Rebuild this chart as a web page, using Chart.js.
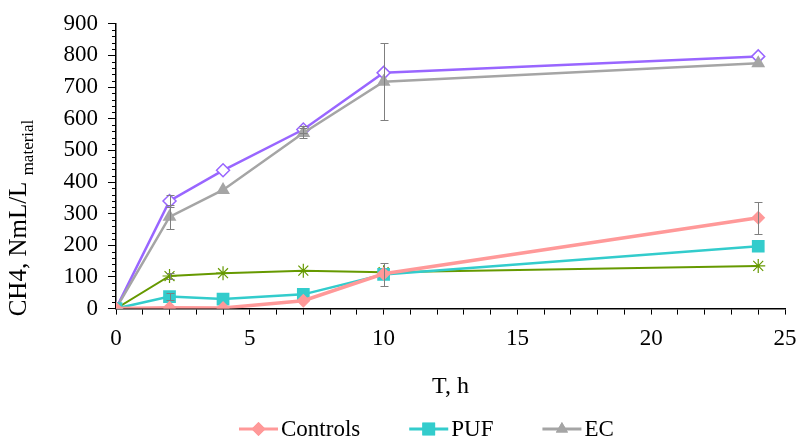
<!DOCTYPE html>
<html>
<head>
<meta charset="utf-8">
<script src="https://cdn.jsdelivr.net/npm/chart.js@4.4.1/dist/chart.umd.min.js"></script>
<style>
  html, body { margin: 0; padding: 0; background: #fff; }
  #wrap { width: 798px; height: 440px; }
</style>
</head>
<body>
<div id="wrap"><canvas id="ch4Chart"></canvas></div>
<script>
// time points (h)
var hours = [0, 2, 4, 7, 10, 24];

// methane yield per series
var controls = [0, 3, 2, 25, 110, 287];
var puf = [0, 38, 30, 45, 108, 197];
var ec = [0, 290, 375, 555, 717, 775];
var purpleSeries = [0, 340, 437, 566, 745, 797];
var greenSeries = [0, 103, 112, 120, 115, 135];

// error bars (+/-)
var controlsErr = [0, 0, 0, 0, 0, 51];
var pufErr = [0, 12, 0, 0, 36, 0];
var ecErr = [0, 38, 0, 15, 122, 0];
var purpleErr = [0, 20, 0, 10, 0, 0];
var greenErr = [0, 8, 0, 0, 0, 0];

var xTicks = [0, 5, 10, 15, 20, 25];
var yTicks = [0, 100, 200, 300, 400, 500, 600, 700, 800, 900];

var FONT = 'Liberation Serif';

function toXY(ys) {
    return hours.map(function(h, i) { return { x: h, y: ys[i] }; });
}

var errorBars = {
    id: 'errorBars',
    afterDatasetsDraw: function(chart) {
        var ctx = chart.ctx;
        var xs = chart.scales.x, ys = chart.scales.y;
        ctx.save();
        ctx.strokeStyle = '#7f7f7f';
        ctx.lineWidth = 1;
        chart.data.datasets.forEach(function(ds) {
            if (!ds.errors) return;
            ds.data.forEach(function(p, i) {
                var e = ds.errors[i];
                if (!e) return;
                var px = Math.round(xs.getPixelForValue(p.x)) + 0.5;
                var top = Math.round(ys.getPixelForValue(p.y + e)) + 0.5;
                var bot = Math.round(ys.getPixelForValue(p.y - e)) + 0.5;
                ctx.beginPath();
                ctx.moveTo(px, top); ctx.lineTo(px, bot);
                ctx.moveTo(px - 4, top); ctx.lineTo(px + 4, top);
                ctx.moveTo(px - 4, bot); ctx.lineTo(px + 4, bot);
                ctx.stroke();
            });
        });
        ctx.restore();
    }
};

// short minor ticks on the y axis
var yMinor = {
    id: 'yMinor',
    afterDraw: function(chart) {
        var ctx = chart.ctx;
        var ys = chart.scales.y;
        ctx.save();
        ctx.strokeStyle = '#000';
        ctx.lineWidth = 1;
        ys.ticks.forEach(function(t) {
            if (yTicks.indexOf(t.value) >= 0) return;
            var py = Math.round(ys.getPixelForValue(t.value)) + 0.5;
            ctx.beginPath();
            ctx.moveTo(ys.right - 4, py);
            ctx.lineTo(ys.right, py);
            ctx.stroke();
        });
        ctx.restore();
    }
};

// y title with subscript
var yTitle = {
    id: 'yTitle',
    afterDraw: function(chart) {
        var ctx = chart.ctx;
        var main = 'CH4, NmL/L ';
        var sub = 'material';
        ctx.save();
        ctx.font = '25px "' + FONT + '"';
        var w1 = ctx.measureText(main).width;
        ctx.font = '17px "' + FONT + '"';
        var w2 = ctx.measureText(sub).width;
        ctx.translate(26, 218);
        ctx.rotate(-Math.PI / 2);
        ctx.fillStyle = '#000';
        ctx.textBaseline = 'alphabetic';
        ctx.textAlign = 'left';
        var start = -(w1 + w2) / 2;
        ctx.font = '25px "' + FONT + '"';
        ctx.fillText(main, start, 0);
        ctx.font = '17px "' + FONT + '"';
        ctx.fillText(sub, start + w1, 7);
        ctx.restore();
    }
};

// legend: line + marker + text, first three series only
var lineLegend = {
    id: 'lineLegend',
    afterDraw: function(chart) {
        var ctx = chart.ctx;
        var y = 429;
        var x = 239;
        ctx.save();
        ctx.font = '23px "' + FONT + '"';
        ctx.textBaseline = 'middle';
        ctx.textAlign = 'left';
        chart.data.datasets.slice(0, 3).forEach(function(ds) {
            ctx.strokeStyle = ds.borderColor;
            ctx.lineWidth = 3;
            ctx.beginPath();
            ctx.moveTo(x, y); ctx.lineTo(x + 39, y);
            ctx.stroke();
            ctx.fillStyle = ds.backgroundColor;
            Chart.helpers.drawPoint(ctx, { pointStyle: ds.pointStyle, radius: ds.legendRadius, borderWidth: 0 }, x + 19.5, y);
            ctx.fill();
            ctx.fillStyle = '#000';
            ctx.fillText(ds.label, x + 42, y + 1);
            x += 42 + ctx.measureText(ds.label).width + 49;
        });
        ctx.restore();
    }
};

var ctx = document.getElementById('ch4Chart').getContext('2d');
var ch4Chart = new Chart(ctx, {
    type: 'line',
    data: {
        datasets: [{
            label: 'Controls',
            data: toXY(controls),
            errors: controlsErr,
            borderColor: '#ff9999',
            backgroundColor: '#ff9999',
            borderWidth: 3.5,
            pointStyle: 'rectRot',
            pointRadius: 7,
            legendRadius: 7,
            pointBorderWidth: 0
        }, {
            label: 'PUF',
            data: toXY(puf),
            errors: pufErr,
            borderColor: '#33cccc',
            backgroundColor: '#33cccc',
            borderWidth: 2.5,
            pointStyle: 'rect',
            pointRadius: 9,
            legendRadius: 9,
            pointBorderWidth: 0
        }, {
            label: 'EC',
            data: toXY(ec),
            errors: ecErr,
            borderColor: '#a5a5a5',
            backgroundColor: '#a5a5a5',
            borderWidth: 2.5,
            pointStyle: 'triangle',
            pointRadius: 8,
            legendRadius: 7,
            pointBorderWidth: 0
        }, {
            label: 'Series 4',
            data: toXY(purpleSeries),
            errors: purpleErr,
            borderColor: '#9966ff',
            backgroundColor: '#ffffff',
            borderWidth: 2.5,
            pointStyle: 'rectRot',
            pointRadius: 6.5,
            pointBorderWidth: 1.5,
            pointBorderColor: '#9966ff',
            pointBackgroundColor: '#ffffff'
        }, {
            label: 'Series 5',
            data: toXY(greenSeries),
            errors: greenErr,
            borderColor: '#669900',
            backgroundColor: '#669900',
            borderWidth: 2,
            pointStyle: 'star',
            pointRadius: 7,
            pointBorderWidth: 1.2,
            pointBorderColor: '#669900'
        }]
    },
    options: {
        responsive: true,
        maintainAspectRatio: false,
        animation: false,
        layout: { padding: { left: 0, right: 0, top: 16, bottom: 39 } },
        elements: { line: { tension: 0 } },
        plugins: {
            tooltip: { enabled: false },
            legend: { display: false }
        },
        scales: {
            x: {
                type: 'linear',
                min: 0,
                max: 25,
                afterFit: function(scale) { scale.paddingRight = 13; scale.paddingLeft = 0; },
                afterBuildTicks: function(scale) {
                    var t = [];
                    for (var v = 0; v <= 25; v++) t.push({ value: v });
                    scale.ticks = t;
                },
                ticks: {
                    autoSkip: false,
                    maxRotation: 0,
                    color: '#000',
                    font: { family: FONT, size: 23 },
                    padding: 11,
                    callback: function(v) { return xTicks.indexOf(v) >= 0 ? String(v) : ''; }
                },
                grid: {
                    drawOnChartArea: false,
                    color: '#000',
                    tickLength: 6,
                    tickColor: '#000'
                },
                border: { color: '#000', width: 1.5 },
                title: {
                    display: true,
                    text: 'T, h',
                    color: '#000',
                    font: { family: FONT, size: 24 },
                    padding: { top: 8, bottom: 0 }
                }
            },
            y: {
                min: 0,
                max: 900,
                afterFit: function(scale) { scale.width = 116; },
                afterBuildTicks: function(scale) {
                    var t = [];
                    for (var v = 0; v <= 900; v += 20) t.push({ value: v });
                    scale.ticks = t;
                },
                ticks: {
                    autoSkip: false,
                    color: '#000',
                    font: { family: FONT, size: 23 },
                    padding: 10,
                    callback: function(v) { return yTicks.indexOf(v) >= 0 ? String(v) : ''; }
                },
                grid: {
                    drawOnChartArea: false,
                    color: '#000',
                    tickLength: 8,
                    tickColor: function(c) {
                        return c.tick && yTicks.indexOf(c.tick.value) >= 0 ? '#000' : 'rgba(0,0,0,0)';
                    }
                },
                border: { color: '#000', width: 1.5 }
            }
        }
    },
    plugins: [errorBars, yMinor, yTitle, lineLegend]
});
</script>
</body>
</html>
